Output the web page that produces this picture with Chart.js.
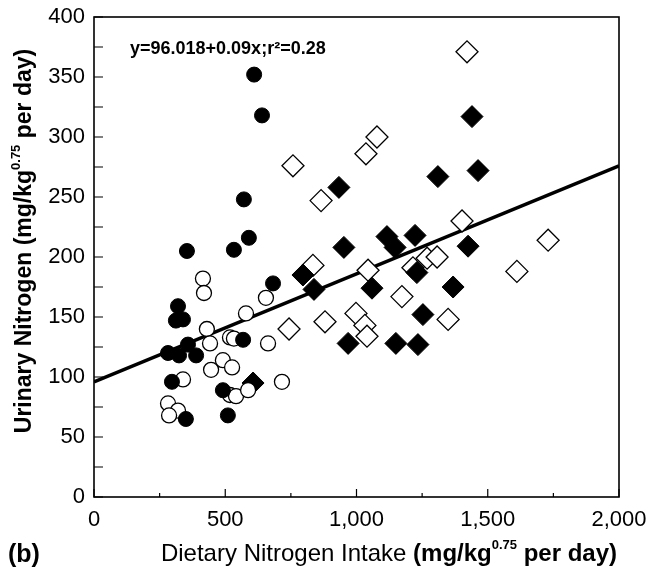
<!DOCTYPE html>
<html>
<head>
<meta charset="utf-8">
<script src="https://cdn.jsdelivr.net/npm/chart.js@4.4.1/dist/chart.umd.min.js"></script>
<style>
  html, body { margin: 0; padding: 0; background: #fff; }
  #wrap { width: 647px; height: 569px; }
</style>
</head>
<body>
<div id="wrap"><canvas id="chart" width="647" height="569"></canvas></div>
<script>
// filled circles
const fcX = [610, 640, 571, 590, 533, 354, 682, 320, 312, 339, 568, 282, 324, 358, 389, 297, 491, 350, 510];
const fcY = [352, 318, 248, 216, 206, 205, 178, 159, 147, 148, 131, 120, 118, 127, 118, 96, 89, 65, 68];
// open circles
const ocX = [415, 419, 655, 579, 430, 442, 518, 533, 663, 339, 446, 491, 526, 518, 541, 587, 716, 282, 320, 286];
const ocY = [182, 170, 166, 153, 140, 128, 133, 132, 128, 98, 106, 114, 108, 85, 84, 89, 96, 78, 72, 68];
// filled diamonds
const fdX = [1440, 933, 1310, 1463, 952, 1116, 1147, 1223, 1425, 796, 838, 1059, 1230, 1368, 1253, 968, 1150, 1234, 606];
const fdY = [317, 258, 267, 272, 208, 217, 208, 218, 209, 185, 173, 174, 187, 175, 152, 128, 128, 127, 95];
// open diamonds
const odX = [1421, 1078, 1036, 758, 865, 1402, 834, 1044, 1269, 1307, 1215, 1173, 1349, 743, 880, 998, 1032, 1040, 1730, 1611];
const odY = [371, 300, 286, 276, 247, 230, 193, 189, 199, 200, 191, 167, 148, 140, 146, 153, 143, 134, 214, 188];
// regression line end points
const fitX = [0, 2000];
const fitY = [96.018, 276.018];

const xTicks = [0, 500, 1000, 1500, 2000];
const xMinor = [250, 750, 1250, 1750];
const yTicks = [0, 50, 100, 150, 200, 250, 300, 350, 400];
const yMinor = [25, 75, 125, 175, 225, 275, 325, 375];

const FONT = "'Liberation Sans', Arial, sans-serif";

function pts(xs, ys) {
    return xs.map((x, i) => ({ x: x, y: ys[i] }));
}

function drawRich(ctx, segs, x, y) {
    // segs: [text, font, dy], centred on x
    let w = 0;
    segs.forEach(s => { ctx.font = s[1]; w += ctx.measureText(s[0]).width; });
    let cx = x - w / 2;
    segs.forEach(s => {
        ctx.font = s[1];
        ctx.fillText(s[0], cx, y + (s[2] || 0));
        cx += ctx.measureText(s[0]).width;
    });
}

const decorPlugin = {
    id: 'decor',
    afterDatasetsDraw(chart) {
        const ctx = chart.ctx;
        const a = chart.chartArea;
        const xs = chart.scales.x, ys = chart.scales.y;
        ctx.save();
        ctx.strokeStyle = '#000';
        ctx.lineWidth = 1.6;
        ctx.strokeRect(a.left, a.top, a.right - a.left, a.bottom - a.top);

        // inward tick marks
        ctx.lineWidth = 1.2;
        ctx.beginPath();
        xTicks.forEach(v => {
            const p = xs.getPixelForValue(v);
            ctx.moveTo(p, a.bottom); ctx.lineTo(p, a.bottom - 8);
        });
        xMinor.forEach(v => {
            const p = xs.getPixelForValue(v);
            ctx.moveTo(p, a.bottom); ctx.lineTo(p, a.bottom - 4);
        });
        yTicks.concat(yMinor).forEach(v => {
            const p = ys.getPixelForValue(v);
            ctx.moveTo(a.left, p); ctx.lineTo(a.left + 9, p);
        });
        ctx.stroke();

        ctx.fillStyle = '#000';
        ctx.textBaseline = 'alphabetic';

        // equation
        ctx.font = 'bold 18px ' + FONT;
        ctx.textAlign = 'left';
        ctx.fillText('y=96.018+0.09x;r\u00B2=0.28', 130, 54);

        // x title
        drawRich(ctx, [
            ['Dietary Nitrogen Intake ', '24px ' + FONT, 0],
            ['(mg/kg', 'bold 24px ' + FONT, 0],
            ['0.75', 'bold 13px ' + FONT, -12],
            [' per day)', 'bold 24px ' + FONT, 0]
        ], 389, 561);

        // y title
        ctx.save();
        ctx.translate(31, 241);
        ctx.rotate(-Math.PI / 2);
        drawRich(ctx, [
            ['Urinary Nitrogen (mg/kg', 'bold 23px ' + FONT, 0],
            ['0.75', 'bold 13px ' + FONT, -11],
            [' per day)', 'bold 23px ' + FONT, 0]
        ], 0, 0);
        ctx.restore();

        // panel label
        ctx.font = 'bold 25px ' + FONT;
        ctx.fillText('(b)', 8, 562);
        ctx.restore();
    }
};

new Chart(document.getElementById('chart'), {
    type: 'scatter',
    data: {
        datasets: [
            {
                label: 'filled circles',
                data: pts(fcX, fcY),
                pointStyle: 'circle',
                pointRadius: 7.5,
                backgroundColor: '#000',
                borderColor: '#000',
                borderWidth: 1
            },
            {
                label: 'open circles',
                data: pts(ocX, ocY),
                pointStyle: 'circle',
                pointRadius: 7.5,
                backgroundColor: '#fff',
                borderColor: '#000',
                borderWidth: 1.3
            },
            {
                label: 'filled diamonds',
                data: pts(fdX, fdY),
                pointStyle: 'rectRot',
                pointRadius: 11,
                backgroundColor: '#000',
                borderColor: '#000',
                borderWidth: 1
            },
            {
                label: 'open diamonds',
                data: pts(odX, odY),
                pointStyle: 'rectRot',
                pointRadius: 11,
                backgroundColor: '#fff',
                borderColor: '#000',
                borderWidth: 1.3
            },
            {
                type: 'line',
                label: 'fit',
                data: pts(fitX, fitY),
                borderColor: '#000',
                borderWidth: 3.5,
                pointRadius: 0,
                fill: false
            }
        ]
    },
    options: {
        responsive: false,
        animation: false,
        locale: 'en-US',
        layout: { padding: { top: 17, right: 28, left: 0, bottom: 0 } },
        plugins: {
            legend: { display: false },
            tooltip: { enabled: false }
        },
        scales: {
            x: {
                type: 'linear',
                min: 0,
                max: 2000,
                afterBuildTicks: s => { s.ticks = xTicks.map(v => ({ value: v })); },
                afterFit: s => { s.height = 72; s.paddingLeft = 0; s.paddingRight = 0; },
                grid: { display: false, drawTicks: false },
                border: { display: false },
                ticks: {
                    padding: 10,
                    color: '#000',
                    maxRotation: 0,
                    font: { family: FONT, size: 22 }
                }
            },
            y: {
                type: 'linear',
                min: 0,
                max: 400,
                afterBuildTicks: s => { s.ticks = yTicks.map(v => ({ value: v })); },
                afterFit: s => { s.width = 94; s.paddingTop = 0; s.paddingBottom = 0; },
                grid: { display: false, drawTicks: false },
                border: { display: false },
                ticks: {
                    padding: 9,
                    color: '#000',
                    font: { family: FONT, size: 22 }
                }
            }
        }
    },
    plugins: [decorPlugin]
});
</script>
</body>
</html>
